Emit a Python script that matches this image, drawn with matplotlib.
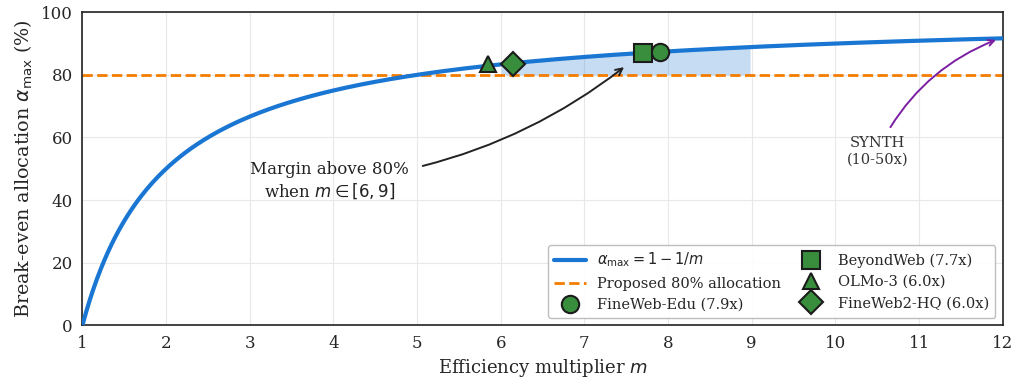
import matplotlib
matplotlib.use("Agg")
import matplotlib.pyplot as plt
import numpy as np
import seaborn as sns

sns.set_style("whitegrid")
plt.rcParams["font.family"] = ["DejaVu Serif"]

# data
m_range = (1.0, 12.0)
margin_range = (6.0, 9.0)
proposed_alloc = 80
datasets = ["FineWeb-Edu (7.9x)", "BeyondWeb (7.7x)", "OLMo-3 (6.0x)", "FineWeb2-HQ (6.0x)"]
dataset_m = [7.9, 7.7, 6.0, 6.0]
dataset_offset = [0.0, 0.0, -0.15, 0.15]
dataset_markers = ["o", "s", "^", "D"]

blue = "#1976d2"
orange = "#f57c00"
green = "#388e3c"

m = np.linspace(m_range[0], m_range[1], 500)
alpha = (1 - 1 / m) * 100

fig, ax = plt.subplots(figsize=(10.18, 3.83), dpi=100)
fig.subplots_adjust(left=0.081, right=0.985, top=0.968, bottom=0.151)

ax.plot(m, alpha, color=blue, lw=3, label=r"$\alpha_{\max} = 1 - 1/m$", zorder=3)
ax.axhline(proposed_alloc, color=orange, lw=2, ls="--", label="Proposed 80% allocation", zorder=2)

mask = (m >= margin_range[0]) & (m <= margin_range[1])
ax.fill_between(m[mask], proposed_alloc, alpha[mask], color=blue, alpha=0.25, lw=0, zorder=1)

for name, mv, off, mk in zip(datasets, dataset_m, dataset_offset, dataset_markers):
    size = 12.5 if mk != "^" else 12
    ax.plot(mv + off, (1 - 1 / mv) * 100, marker=mk, ms=size, color=green,
            mec="#1b1b1b", mew=1.5, ls="none", label=name, zorder=5)

ax.annotate("Margin above 80%\nwhen $m \\in [6, 9]$", xy=(7.5, 83), xytext=(3.95, 46),
            fontsize=12, ha="center", va="center", color="#222222",
            arrowprops=dict(arrowstyle="->", color="#222222", lw=1.4,
                            connectionstyle="arc3,rad=0.15", shrinkA=8, shrinkB=2))

ax.annotate("SYNTH\n(10-50x)", xy=(11.95, 91.5), xytext=(10.5, 55.5),
            fontsize=10.5, ha="center", va="center", color="#333333",
            arrowprops=dict(arrowstyle="->", color="#7b1fa2", lw=1.4,
                            connectionstyle="arc3,rad=-0.2", shrinkA=5, shrinkB=2))

ax.set_xlim(1, 12)
ax.set_ylim(0, 100)
ax.set_xticks(range(1, 13))
ax.set_yticks(range(0, 101, 20))
ax.tick_params(labelsize=12)
ax.set_xlabel("Efficiency multiplier $m$", fontsize=13)
ax.set_ylabel(r"Break-even allocation $\alpha_{\max}$ (%)", fontsize=13.8)
ax.grid(True, color="#e8e8e8", lw=0.8)
for s in ax.spines.values():
    s.set_color("#222222")
    s.set_linewidth(1.2)

ax.legend(ncol=2, loc="lower right", fontsize=10.5, frameon=True,
          edgecolor="#bbbbbb", framealpha=0.95, columnspacing=0.9, handlelength=2.2)

fig.savefig("out.png", dpi=100)
